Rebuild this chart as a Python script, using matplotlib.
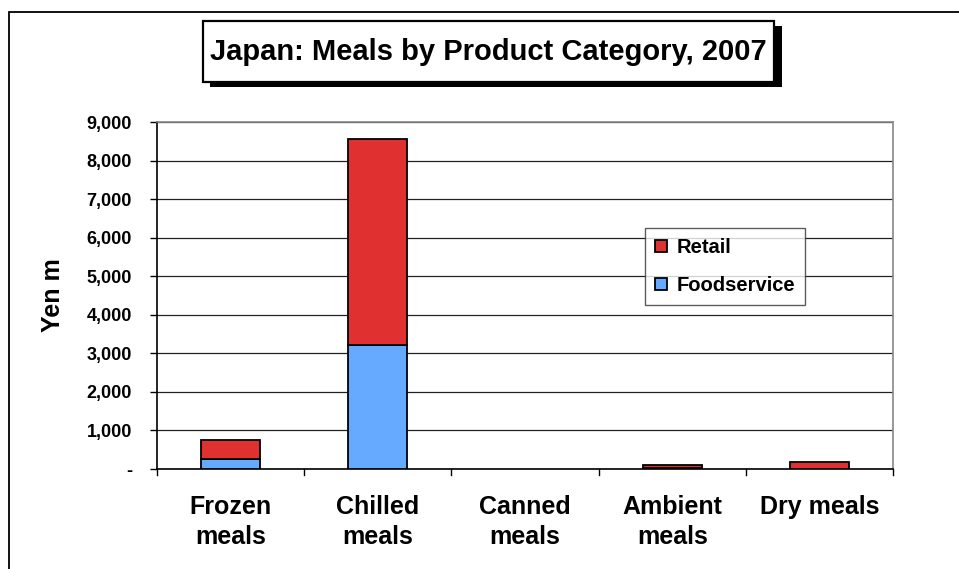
import matplotlib
matplotlib.use('Agg')
import matplotlib.pyplot as plt
from matplotlib.patches import Rectangle
from matplotlib.ticker import FuncFormatter, FixedLocator

# Data (Yen m)
categories = ['Frozen\nmeals', 'Chilled\nmeals', 'Canned\nmeals', 'Ambient\nmeals', 'Dry meals']
foodservice = [260, 3220, 0, 20, 0]
retail = [490, 5330, 0, 90, 180]
y_ticks = [0, 1000, 2000, 3000, 4000, 5000, 6000, 7000, 8000, 9000]

retail_color = '#E03030'
food_color = '#66AAFF'

plt.rcParams['font.family'] = ['Liberation Sans', 'DejaVu Sans']

W, H = 959, 569
fig = plt.figure(figsize=(W / 100, H / 100), dpi=100)
ax = fig.add_axes([157 / W, 1 - 469 / H, 736 / W, 347 / H])

# outer frame of the chart (runs off the right and bottom edges)
fig.patches.append(Rectangle((9 / W, -0.1), 1.1, 1 - 12 / H + 0.1,
                             transform=fig.transFigure, fill=False,
                             edgecolor='black', linewidth=1.3))

x = list(range(len(categories)))
lw_food = [1.3 if v > 0 else 0 for v in foodservice]
lw_retail = [1.3 if v > 0 else 0 for v in retail]
ax.bar(x, foodservice, width=0.40, color=food_color, edgecolor='black',
       linewidth=lw_food, label='Foodservice', zorder=3)
ax.bar(x, retail, width=0.40, bottom=foodservice, color=retail_color,
       edgecolor='black', linewidth=lw_retail, label='Retail', zorder=3)

ax.set_xlim(-0.5, len(categories) - 0.5)
ax.set_ylim(0, 9000)
ax.yaxis.set_major_locator(FixedLocator(y_ticks))
ax.yaxis.set_major_formatter(FuncFormatter(lambda v, p: '-' if v == 0 else f'{int(v):,}'))
ax.grid(axis='y', color='#222222', linewidth=0.9, zorder=0)

ax.set_xticks(x)
ax.set_xticklabels(categories, fontsize=18, fontweight='bold', linespacing=1.3)
ax.tick_params(axis='x', length=0, pad=19)
for b in [i - 0.5 for i in range(len(categories) + 1)]:
    ax.plot([b, b], [0, -6 / 347], transform=ax.get_xaxis_transform(),
            color='black', linewidth=1, clip_on=False)
ax.tick_params(axis='y', labelsize=13, direction='out', length=5, width=1, pad=13)
for lab in ax.get_yticklabels():
    lab.set_fontweight('bold')

ax.spines['left'].set_color('black')
ax.spines['bottom'].set_color('black')
ax.spines['top'].set_color('#888888')
ax.spines['right'].set_color('#888888')
for s in ax.spines.values():
    s.set_linewidth(1.2)

ax.set_ylabel('Yen m', fontsize=18, fontweight='bold')
ax.yaxis.set_label_coords((65 - 157) / 736, 0.5)

handles, labels = ax.get_legend_handles_labels()
leg = ax.legend(handles[::-1], labels[::-1], loc='upper left',
                bbox_to_anchor=((645 - 157) / 736, (469 - 228) / 347),
                prop={'weight': 'bold', 'size': 14.5}, frameon=True, fancybox=False,
                edgecolor='#333333', handlelength=0.6, handleheight=0.6,
                handletextpad=0.45, labelspacing=0.95, borderpad=0.5,
                borderaxespad=0)
leg.get_frame().set_linewidth(1.0)
leg.set_zorder(5)

# title box with drop shadow
fig.patches.append(Rectangle((210 / W, 1 - 87 / H), 572 / W, 61 / H,
                             transform=fig.transFigure, facecolor='black',
                             edgecolor='none', zorder=1))
fig.patches.append(Rectangle((203 / W, 1 - 82 / H), 571 / W, 61 / H,
                             transform=fig.transFigure, facecolor='white',
                             edgecolor='black', linewidth=1.6, zorder=2))
fig.text(488 / W, 1 - 52 / H, 'Japan: Meals by Product Category, 2007',
         ha='center', va='center', fontsize=21, fontweight='bold', zorder=3)

fig.savefig('out.png', dpi=100)
